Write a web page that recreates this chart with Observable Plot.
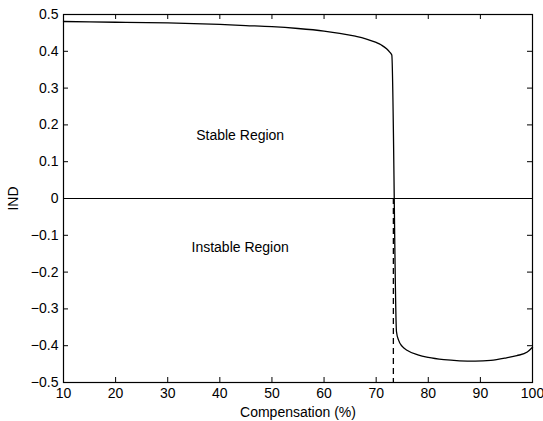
<!DOCTYPE html>
<html>
<head>
<meta charset="utf-8">
<script src="https://cdn.jsdelivr.net/npm/d3@7"></script>
<script src="https://cdn.jsdelivr.net/npm/@observablehq/plot@0.6"></script>
<style>
  html, body { margin: 0; padding: 0; background: #fff; }
  svg { font-family: "Liberation Sans", Arial, sans-serif; }
</style>
</head>
<body>
<div id="chart"></div>
<script>
// Compensation (%) values
const compensation = [10, 20, 30, 40, 45, 50, 55, 60, 63, 66, 68, 70, 71, 72, 72.6, 73.0, 73.9, 74.3, 75, 76, 78, 80, 83, 86, 89, 92, 95, 97, 99, 100];
// IND values
const ind = [0.481, 0.479, 0.477, 0.473, 0.470, 0.467, 0.462, 0.455, 0.449, 0.441, 0.434, 0.424, 0.417, 0.407, 0.398, 0.390, -0.362, -0.385, -0.402, -0.413, -0.425, -0.432, -0.438, -0.441, -0.442, -0.440, -0.433, -0.427, -0.417, -0.404];

const xTicks = [10, 20, 30, 40, 50, 60, 70, 80, 90, 100];
const yTicks = [-0.5, -0.4, -0.3, -0.2, -0.1, 0, 0.1, 0.2, 0.3, 0.4, 0.5];

const criticalX = [73.3];
const regionLabels = ["Stable Region", "Instable Region"];
const regionX = [43.9, 43.9];
const regionY = [0.171, -0.133];

const W = 543, H = 421;
const mL = 63, mR = 11, mT = 14, mB = 39;
const innerW = W - mL - mR, innerH = H - mT - mB;
const tickLen = 5;

const data = compensation.map((x, i) => ({x, y: ind[i]}));
const labels = regionLabels.map((t, i) => ({t, x: regionX[i], y: regionY[i]}));

const fmt = d => d === 0 ? "0" : (d < 0 ? "\u2212" + Math.abs(d) : String(d));

const chart = Plot.plot({
  width: W,
  height: H,
  marginLeft: mL,
  marginRight: mR,
  marginTop: mT,
  marginBottom: mB,
  style: {fontSize: "14px", fontFamily: "'Liberation Sans', Arial, sans-serif", color: "black", background: "white"},
  x: {domain: [10, 100]},
  y: {domain: [-0.5, 0.5]},
  marks: [
    Plot.axisX(xTicks, {tickSize: 0, tickPadding: 6, tickFormat: d => String(d), label: "Compensation (%)", labelAnchor: "center", labelArrow: "none", labelOffset: 34, fontSize: 14}),
    Plot.axisY(yTicks, {tickSize: 0, tickPadding: 5, tickFormat: fmt, label: "IND", labelAnchor: "center", labelArrow: "none", labelOffset: 55, fontSize: 14}),
    // inward ticks (bottom, top, left, right)
    Plot.tickX(xTicks, {x: d => d, insetTop: innerH - tickLen, stroke: "black"}),
    Plot.tickX(xTicks, {x: d => d, insetBottom: innerH - tickLen, stroke: "black"}),
    Plot.tickY(yTicks, {y: d => d, insetRight: innerW - tickLen, stroke: "black"}),
    Plot.tickY(yTicks, {y: d => d, insetLeft: innerW - tickLen, stroke: "black"}),
    Plot.ruleY([0], {stroke: "black", strokeWidth: 1.2}),
    Plot.ruleX(criticalX, {x: d => d, y1: 0, y2: -0.5, stroke: "black", strokeWidth: 1.3, strokeDasharray: "6,4"}),
    Plot.line(data, {x: "x", y: "y", stroke: "black", strokeWidth: 1.3, curve: "monotone-x"}),
    Plot.text(labels, {x: "x", y: "y", text: "t", fill: "black", fontSize: 14, textAnchor: "middle"}),
    Plot.frame({stroke: "black", strokeWidth: 1.2})
  ]
});
document.getElementById("chart").appendChild(chart);
</script>
</body>
</html>
